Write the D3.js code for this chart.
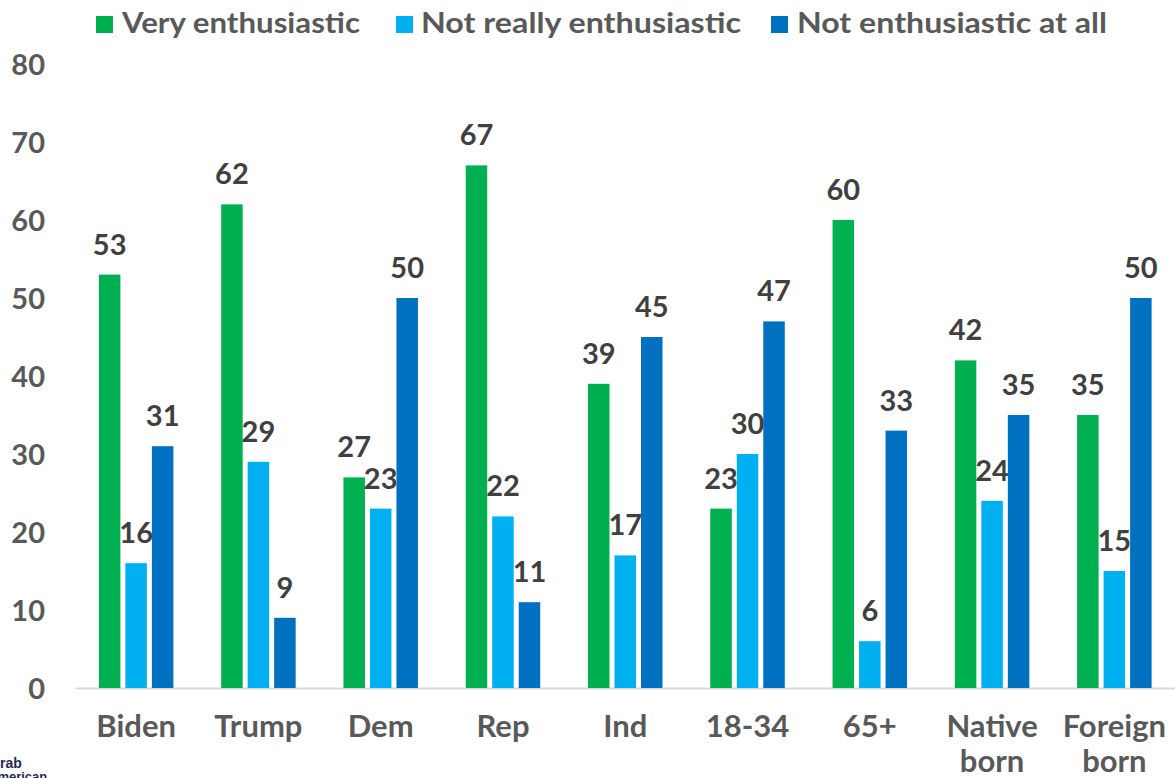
<!DOCTYPE html>
<html>
<head>
<meta charset="utf-8">
<script src="https://cdn.jsdelivr.net/npm/d3@7"></script>
<style>
  html, body { margin: 0; padding: 0; background: #ffffff; }
  svg { display: block; }
</style>
</head>
<body>
<script>
const categories = [["Biden"], ["Trump"], ["Dem"], ["Rep"], ["Ind"], ["18-34"], ["65+"], ["Native", "born"], ["Foreign", "born"]];
const seriesNames = ["Very enthusiastic", "Not really enthusiastic", "Not enthusiastic at all"];
const veryEnthusiastic = [53, 62, 27, 67, 39, 23, 60, 42, 35];
const notReallyEnthusiastic = [16, 29, 23, 22, 17, 30, 6, 24, 15];
const notEnthusiasticAtAll = [31, 9, 50, 11, 45, 47, 33, 35, 50];
const yTicks = [0, 10, 20, 30, 40, 50, 60, 70, 80];
const colors = ["#00b050", "#00b0f0", "#0070c0"];

const W = 1175, H = 778;
const svg = d3.select("body").append("svg").attr("width", W).attr("height", H);

const seriesValues = [veryEnthusiastic, notReallyEnthusiastic, notEnthusiasticAtAll];
const catKeys = categories.map(c => c.join(" "));

const y = d3.scaleLinear().domain([0, 80]).range([688, 64]);
const x0 = d3.scaleBand().domain(catKeys).range([75, 1175.5]).padding(0);
const groupW = 74.5;
const x1 = d3.scaleBand().domain(seriesNames)
  .range([(x0.step() - groupW) / 2, (x0.step() + groupW) / 2])
  .paddingInner(5 / 26.5).paddingOuter(0);

// y axis tick labels
const yAxis = d3.axisLeft(y).tickValues(yTicks).tickSize(0).tickPadding(0);
const gy = svg.append("g").attr("transform", "translate(45,0)").call(yAxis);
gy.select(".domain").remove();
gy.selectAll("text")
  .attr("font-family", "Lato, sans-serif")
  .attr("font-weight", 700)
  .attr("font-size", 29)
  .attr("fill", "#595959")
  .attr("text-anchor", "end")
  .attr("dy", "0.36em");

// baseline axis
const xAxis = d3.axisBottom(x0).tickSize(0).tickFormat(() => "");
const gx = svg.append("g").attr("transform", "translate(0,688)").call(xAxis);
gx.select(".domain").attr("stroke", "#d9d9d9").attr("stroke-width", 2);

// category labels
categories.forEach((lines, i) => {
  const t = svg.append("text")
    .attr("x", x0(catKeys[i]) + x0.bandwidth() / 2)
    .attr("y", 737)
    .attr("text-anchor", "middle")
    .attr("font-family", "Lato, sans-serif")
    .attr("font-weight", 700)
    .attr("font-size", 31)
    .attr("fill", "#595959");
  lines.forEach((ln, j) => {
    t.append("tspan").attr("x", x0(catKeys[i]) + x0.bandwidth() / 2)
      .attr("dy", j === 0 ? 0 : 35).text(ln);
  });
});

// bars
const data = [];
catKeys.forEach((c, i) => {
  seriesNames.forEach((s, k) => {
    data.push({ cat: c, series: s, k: k, value: seriesValues[k][i] });
  });
});

svg.append("g").selectAll("rect").data(data).join("rect")
  .attr("x", d => x0(d.cat) + x1(d.series))
  .attr("y", d => y(d.value))
  .attr("width", x1.bandwidth())
  .attr("height", d => y(0) - y(d.value))
  .attr("fill", d => colors[d.k]);

svg.append("g").selectAll("text").data(data).join("text")
  .attr("x", d => x0(d.cat) + x1(d.series) + x1.bandwidth() / 2)
  .attr("y", d => y(d.value) - 20)
  .attr("text-anchor", "middle")
  .attr("font-family", "Lato, sans-serif")
  .attr("font-weight", 700)
  .attr("font-size", 29)
  .attr("fill", "#404040")
  .text(d => d.value);

// legend
const legendPos = [
  { sq: 96, tx: 122, len: 238 },
  { sq: 396, tx: 421, len: 320 },
  { sq: 771, tx: 797, len: 310 }
];
seriesNames.forEach((s, k) => {
  svg.append("rect")
    .attr("x", legendPos[k].sq).attr("y", 16)
    .attr("width", 17).attr("height", 17)
    .attr("fill", colors[k]);
  svg.append("text")
    .attr("x", legendPos[k].tx).attr("y", 33)
    .attr("font-family", "Lato, sans-serif")
    .attr("font-weight", 700)
    .attr("font-size", 28)
    .attr("fill", "#595959")
    .attr("textLength", legendPos[k].len)
    .attr("lengthAdjust", "spacingAndGlyphs")
    .text(s);
});

// partial logo at bottom-left
svg.append("text").attr("x", -10).attr("y", 768)
  .attr("font-family", "'Liberation Sans Narrow', 'Liberation Sans', sans-serif")
  .attr("font-weight", 700).attr("font-size", 14).attr("fill", "#1f2a55")
  .text("Arab");
svg.append("text").attr("x", -12).attr("y", 781)
  .attr("font-family", "'Liberation Sans Narrow', 'Liberation Sans', sans-serif")
  .attr("font-weight", 700).attr("font-size", 13).attr("fill", "#1f2a55")
  .text("American");
</script>
</body>
</html>
